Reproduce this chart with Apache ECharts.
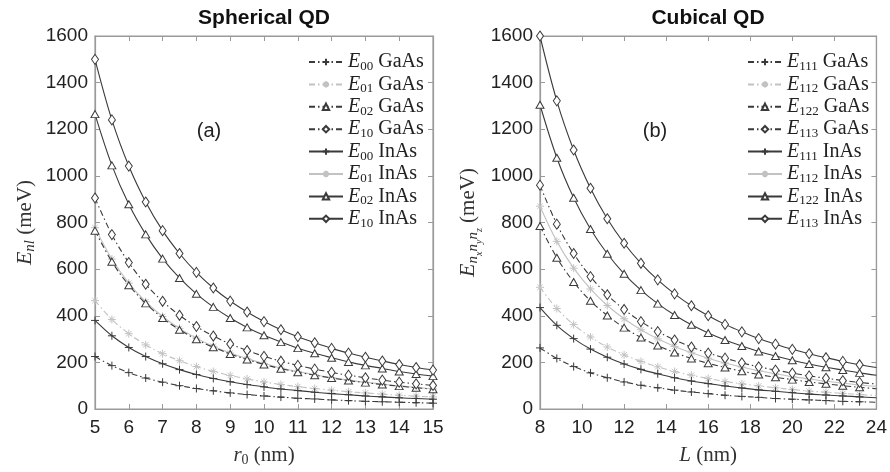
<!DOCTYPE html>
<html><head><meta charset="utf-8">
<script src="https://cdn.jsdelivr.net/npm/echarts@6/dist/echarts.min.js"></script>
<style>html,body{margin:0;padding:0;background:#fff}#c{width:890px;height:472px}</style>
</head><body><div id="c"></div>
<script>
// ---------- data ----------
const sphR = [5,5.5,6,6.5,7,7.5,8,8.5,9,9.5,10,10.5,11,11.5,12,12.5,13,13.5,14,14.5,15];
const sphE00GaAs = [225,186,156,133,115,100,88,78,69,62,56,51,46,43,39,36,33,31,29,27,25];
const sphE01GaAs = [465,384,323,275,237,207,182,161,144,129,116,105,96,88,81,74,69,64,59,55,52];
const sphE02GaAs = [765,632,531,453,390,340,299,265,236,212,191,173,158,145,133,122,113,105,98,91,85];
const sphE10GaAs = [905,748,628,535,462,402,354,313,279,251,226,205,187,171,157,145,134,124,115,108,101];
const sphE00InAs = [380,314,264,225,194,169,148,131,117,105,95,86,79,72,66,61,56,52,48,45,42];
const sphE01InAs = [778,643,540,460,397,346,304,269,240,216,195,176,161,147,135,124,115,107,99,93,86];
const sphE02InAs = [1265,1045,878,749,645,562,494,438,390,350,316,287,261,239,220,202,187,174,161,150,141];
const sphE10InAs = [1500,1240,1042,888,765,667,586,519,463,416,375,340,310,284,260,240,222,206,191,178,167];

const cubL = [8,8.8,9.6,10.4,11.2,12,12.8,13.6,14.4,15.2,16,16.8,17.6,18.4,19.2,20,20.8,21.6,22.4,23.2,24];
const cubE111GaAs = [262,217,182,155,134,116,102,91,81,73,66,59,54,50,45,42,39,36,33,31,29];
const cubE112GaAs = [522,431,362,309,266,232,204,181,161,145,131,118,108,99,91,84,77,72,67,62,58];
const cubE122GaAs = [785,649,545,464,401,349,307,272,242,217,196,178,162,148,136,126,116,108,100,93,87];
const cubE113GaAs = [960,793,667,568,490,427,375,332,296,266,240,218,198,181,167,154,142,132,122,114,107];
const cubE111InAs = [435,359,302,257,222,193,170,151,134,120,109,99,90,82,76,70,64,60,56,52,48];
const cubE112InAs = [870,719,604,515,444,387,340,301,268,241,218,197,180,164,151,139,129,119,111,103,97];
const cubE122InAs = [1305,1078,906,772,666,580,510,452,403,361,326,296,270,247,227,209,193,179,167,155,145];
const cubE113InAs = [1600,1322,1111,947,816,711,625,554,494,443,400,363,331,302,278,256,237,220,204,190,178];

const yTicks = [0,200,400,600,800,1000,1200,1400,1600];
const sphTicks = [5,6,7,8,9,10,11,12,13,14,15];
const cubTicks = [8,10,12,14,16,18,20,22,24];

// ---------- styles ----------
const DARK = '#3a3a3a', LIGHT = '#c2c2c2', FRAME = '#9a9a9a';
const SYM = {
  plus: 'path://M5,0L5,10M0,5L10,5',
  star: 'path://M5,0L5,10M0,5L10,5M1.6,1.6L8.4,8.4M8.4,1.6L1.6,8.4',
  tri: 'path://M5,0L10,9L0,9Z',
  dia: 'path://M4,0L8,6L4,12L0,6Z'
};
const SIZE = {plus:[8,8], star:[8,8], tri:[8,7], dia:[7,10]};
const DASHDOT = [6,3,1.5,3];

function mk(name, xs, ys, gi, dashed, sym, light, lastNoMarker) {
  const c = light ? LIGHT : DARK;
  const data = xs.map((x, i) => {
    const d = {value: [x, ys[i]]};
    if (lastNoMarker && i === xs.length - 1) d.symbol = 'none';
    return d;
  });
  return {
    type: 'line', name, xAxisIndex: gi * 2, yAxisIndex: gi * 2, data,
    smooth: 0.35, symbol: SYM[sym], symbolSize: SIZE[sym], showSymbol: true,
    lineStyle: {color: c, width: 1.1, type: dashed ? DASHDOT : 'solid'},
    itemStyle: {color: '#fff', borderColor: c, borderWidth: 1},
    emphasis: {disabled: true}, z: light ? 2 : 3
  };
}

const serif = 'Liberation Serif';
const richBase = {
  i: {fontFamily: serif, fontStyle: 'italic', fontSize: 20, lineHeight: 22, color: '#222'},
  s: {fontFamily: serif, fontSize: 13, lineHeight: 22, verticalAlign: 'bottom', color: '#222'},
  t: {fontFamily: serif, fontSize: 20, lineHeight: 22, color: '#222'}
};

function legendFmt(name) {
  const [e, mat] = name.split(' ');
  return '{i|E}{s|' + e.slice(1) + '}{t| ' + mat + '}';
}

const lineCommon = {
  axisLine: {show: true, onZero: false, lineStyle: {color: FRAME, width: 1.2}},
  axisTick: {show: true, inside: true, length: 5, lineStyle: {color: FRAME}},
  splitLine: {show: false}
};

function xAxisPair(gi, min, max, interval, nameRich) {
  const base = Object.assign({type: 'value', gridIndex: gi, min, max, interval}, lineCommon);
  return [
    Object.assign({}, base, {
      position: 'bottom',
      axisLabel: {fontSize: 19, fontFamily: 'Liberation Sans', color: '#222', margin: 9},
      name: nameRich, nameLocation: 'middle', nameGap: 34,
      nameTextStyle: {fontFamily: serif, fontSize: 20, color: '#333', rich: {
        i: {fontFamily: serif, fontStyle: 'italic', fontSize: 21, lineHeight: 24, color: '#333'},
        s: {fontFamily: serif, fontSize: 14, lineHeight: 24, verticalAlign: 'bottom', color: '#333'},
        t: {fontFamily: serif, fontSize: 21, lineHeight: 24, color: '#333'}
      }}
    }),
    Object.assign({}, base, {position: 'top', axisLabel: {show: false}})
  ];
}
function yAxisPair(gi, nameRich, gap) {
  const base = Object.assign({type: 'value', gridIndex: gi, min: 0, max: 1600, interval: 200}, lineCommon);
  return [
    Object.assign({}, base, {
      position: 'left',
      axisLabel: {fontSize: 19, fontFamily: 'Liberation Sans', color: '#222', margin: 7, formatter: v => String(v)},
      name: nameRich, nameLocation: 'middle', nameGap: gap, nameRotate: 90,
      nameTextStyle: {fontFamily: serif, fontSize: 21, color: '#333', rich: {
        i: {fontFamily: serif, fontStyle: 'italic', fontSize: 22, lineHeight: 26, color: '#333'},
        s: {fontFamily: serif, fontStyle: 'italic', fontSize: 15, lineHeight: 26, verticalAlign: 'bottom', color: '#333'},
        ss: {fontFamily: serif, fontStyle: 'italic', fontSize: 10, lineHeight: 26, verticalAlign: 'bottom', padding: [0,0,-3,0], color: '#333'},
        t: {fontFamily: serif, fontSize: 21, lineHeight: 26, color: '#333'}
      }}
    }),
    Object.assign({}, base, {position: 'right', axisLabel: {show: false}})
  ];
}

const series = [
  mk('E00 GaAs', sphR, sphE00GaAs, 0, true, 'plus', false),
  mk('E01 GaAs', sphR, sphE01GaAs, 0, true, 'star', true),
  mk('E02 GaAs', sphR, sphE02GaAs, 0, true, 'tri', false),
  mk('E10 GaAs', sphR, sphE10GaAs, 0, true, 'dia', false),
  mk('E00 InAs', sphR, sphE00InAs, 0, false, 'plus', false),
  mk('E01 InAs', sphR, sphE01InAs, 0, false, 'star', true),
  mk('E02 InAs', sphR, sphE02InAs, 0, false, 'tri', false),
  mk('E10 InAs', sphR, sphE10InAs, 0, false, 'dia', false),
  mk('E111 GaAs', cubL, cubE111GaAs, 1, true, 'plus', false, true),
  mk('E112 GaAs', cubL, cubE112GaAs, 1, true, 'star', true, true),
  mk('E122 GaAs', cubL, cubE122GaAs, 1, true, 'tri', false, true),
  mk('E113 GaAs', cubL, cubE113GaAs, 1, true, 'dia', false, true),
  mk('E111 InAs', cubL, cubE111InAs, 1, false, 'plus', false, true),
  mk('E112 InAs', cubL, cubE112InAs, 1, false, 'star', true, true),
  mk('E122 InAs', cubL, cubE122InAs, 1, false, 'tri', false, true),
  mk('E113 InAs', cubL, cubE113InAs, 1, false, 'dia', false, true)
];

function legendAt(left, names) {
  return {
    orient: 'vertical', left, top: 47, itemWidth: 34, itemHeight: 8, itemGap: 1.4,
    data: names, formatter: legendFmt, selectedMode: false,
    textStyle: {fontFamily: serif, fontSize: 20, color: '#222', rich: richBase}
  };
}

const option = {
  animation: false,
  backgroundColor: '#fff',
  grid: [
    {left: 95, right: 457, top: 36, bottom: 63, show: true, borderColor: FRAME, borderWidth: 1.2, backgroundColor: 'transparent'},
    {left: 540, right: 13, top: 36, bottom: 63, show: true, borderColor: FRAME, borderWidth: 1.2, backgroundColor: 'transparent'}
  ],
  xAxis: [].concat(
    xAxisPair(0, 5, 15, 1, '{i|r}{s|0}{t| (nm)}'),
    xAxisPair(1, 8, 24, 2, '{i|L}{t| (nm)}')
  ),
  yAxis: [].concat(
    yAxisPair(0, '{i|E}{s|nl}{t| (meV)}', 57),
    yAxisPair(1, '{i|E}{s|n}{ss|x}{s|n}{ss|y}{s|n}{ss|z}{t| (meV)}', 59)
  ),
  legend: [
    legendAt(303, series.slice(0, 8).map(s => s.name)),
    legendAt(742, series.slice(8).map(s => s.name))
  ],
  graphic: [
    {type: 'text', x: 264, y: 8, style: {text: 'Spherical QD', align: 'center', textAlign: 'center', verticalAlign: 'top', textVerticalAlign: 'top', font: 'bold 21px "Liberation Sans"', fill: '#111'}},
    {type: 'text', x: 708, y: 8, style: {text: 'Cubical QD', align: 'center', textAlign: 'center', verticalAlign: 'top', textVerticalAlign: 'top', font: 'bold 21px "Liberation Sans"', fill: '#111'}},
    {type: 'text', x: 209, y: 131, style: {text: '(a)', align: 'center', textAlign: 'center', verticalAlign: 'middle', textVerticalAlign: 'middle', font: '20px "Liberation Sans"', fill: '#222'}},
    {type: 'text', x: 655, y: 131, style: {text: '(b)', align: 'center', textAlign: 'center', verticalAlign: 'middle', textVerticalAlign: 'middle', font: '20px "Liberation Sans"', fill: '#222'}}
  ],
  series
};

const chart = echarts.init(document.getElementById('c'), null, {renderer: 'canvas'});
chart.setOption(option);
</script>
</body></html>
